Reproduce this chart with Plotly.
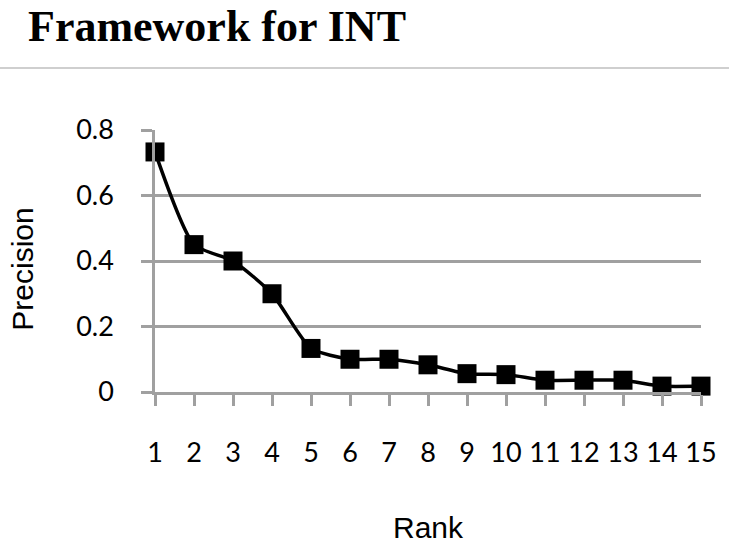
import plotly.graph_objects as go

ranks = list(range(1, 16))
precision = [0.733, 0.45, 0.40, 0.30, 0.133, 0.10, 0.10, 0.083, 0.056, 0.053, 0.036, 0.036, 0.036, 0.018, 0.018]
tick_labels = [str(r) for r in ranks]
y_ticks = [0, 0.2, 0.4, 0.6, 0.8]
y_tick_labels = ["0", "0.2", "0.4", "0.6", "0.8"]

W, H = 729, 549
L, R, T, B = 155, 21, 130, 157
pw = W - L - R
ph = H - T - B
grid = "#a0a0a0"
xfont = dict(family="Lato, Carlito, Calibri, sans-serif", size=27, color="black")
yfont = dict(family="Lato, Carlito, Calibri, sans-serif", size=27, color="black")
afont = dict(family="Liberation Sans, Arial, sans-serif", size=30, color="black")

fig = go.Figure()
fig.add_trace(go.Scatter(
    x=ranks, y=precision, mode="lines+markers",
    line=dict(color="black", width=3.5, shape="spline", smoothing=0.6),
    marker=dict(symbol="square", size=19, color="black"),
    cliponaxis=False, showlegend=False,
))

fig.update_layout(
    width=W, height=H, margin=dict(l=L, r=R, t=T, b=B),
    paper_bgcolor="white", plot_bgcolor="white",
    xaxis=dict(range=[1, 15], tickvals=ranks, ticktext=tick_labels,
               showgrid=False, zeroline=False, showline=True, linecolor=grid, linewidth=2.5,
               ticks="outside", ticklen=11, tickwidth=2.5, tickcolor=grid,
               tickfont=xfont, ticklabelstandoff=24),
    yaxis=dict(range=[0, 0.8], tickvals=y_ticks, ticktext=y_tick_labels,
               showgrid=True, gridcolor=grid, gridwidth=2.5, zeroline=False,
               showline=True, linecolor=grid, linewidth=2.5,
               ticks="outside", ticklen=11, tickwidth=2.5, tickcolor=grid,
               tickfont=yfont, ticklabelstandoff=22),
)

fig.add_annotation(text="<b>Framework for INT</b>", xref="paper", yref="paper",
                   x=(25 - L) / pw, y=(392 - 1) / ph,
                   xanchor="left", yanchor="top", showarrow=False, borderpad=0,
                   font=dict(family="Liberation Serif, Times New Roman, serif", size=44, color="black"))
fig.add_shape(type="line", xref="paper", yref="paper",
              x0=-(L + 10) / pw, x1=(W - L + 10) / pw, y0=(392 - 68) / ph, y1=(392 - 68) / ph,
              line=dict(color="#bfbfbf", width=1.5))
fig.add_annotation(text="Precision", xref="paper", yref="paper",
                   x=(20 - L) / pw, y=(392 - 269) / ph, textangle=-90,
                   xanchor="center", yanchor="middle", showarrow=False, font=afont)
fig.add_annotation(text="Rank", xref="paper", yref="paper",
                   x=(432 - L) / pw, y=(392 - 527) / ph,
                   xanchor="center", yanchor="middle", showarrow=False, font=afont)

fig.write_html("out.html")
